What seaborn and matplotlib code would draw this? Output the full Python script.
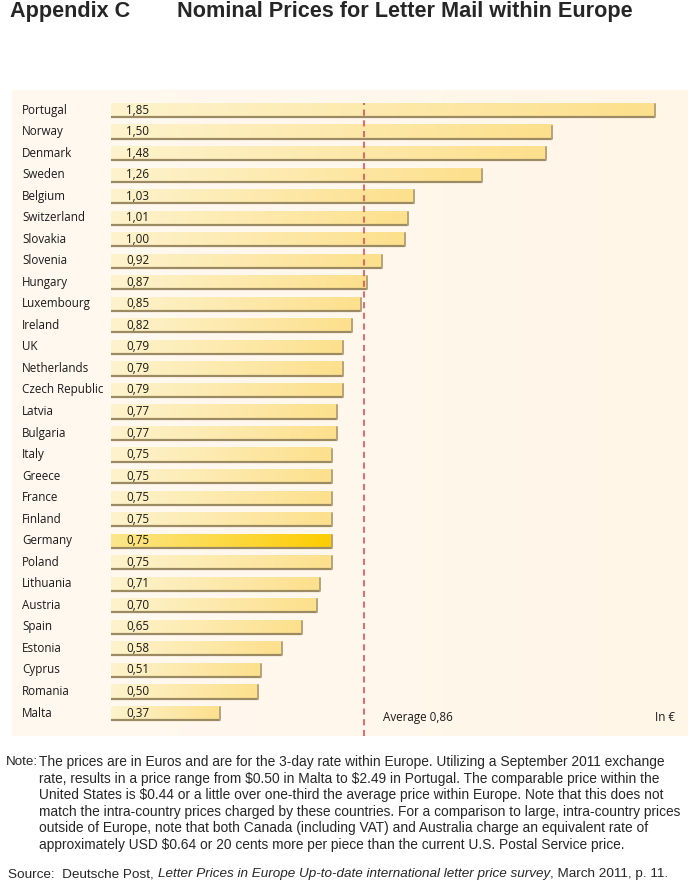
import numpy as np
import pandas as pd
import matplotlib
matplotlib.use('Agg')
import matplotlib.pyplot as plt
import seaborn as sns

# Chart data
countries = ['Portugal', 'Norway', 'Denmark', 'Sweden', 'Belgium', 'Switzerland',
             'Slovakia', 'Slovenia', 'Hungary', 'Luxembourg', 'Ireland', 'UK',
             'Netherlands', 'Czech Republic', 'Latvia', 'Bulgaria', 'Italy', 'Greece',
             'France', 'Finland', 'Germany', 'Poland', 'Lithuania', 'Austria', 'Spain',
             'Estonia', 'Cyprus', 'Romania', 'Malta']
prices = [1.85, 1.50, 1.48, 1.26, 1.03, 1.01, 1.00, 0.92, 0.87, 0.85, 0.82, 0.79,
          0.79, 0.79, 0.77, 0.77, 0.75, 0.75, 0.75, 0.75, 0.75, 0.75, 0.71, 0.70,
          0.65, 0.58, 0.51, 0.50, 0.37]
average = 0.86
highlight = 'Germany'

df = pd.DataFrame({'country': countries, 'price': prices})

sns.set_theme(style='white')
plt.rcParams['font.family'] = ['Liberation Sans', 'DejaVu Sans']
plt.rcParams['text.parse_math'] = False

W, H = 699, 888
fig = plt.figure(figsize=(W / 100, H / 100), dpi=100)
fig.patch.set_facecolor('white')

# Panel geometry in pixels
px_left, px_right, px_top, px_bot = 12, 688, 90, 736
bar_x0 = 111
scale = (655 - bar_x0) / 1.85
row0, row_step = 110, (713 - 110) / 28

ax = fig.add_axes([px_left / W, 1 - px_bot / H, (px_right - px_left) / W, (px_bot - px_top) / H])
xlim = ((px_left - bar_x0) / scale, (px_right - bar_x0) / scale)
ylim = ((px_bot - row0) / row_step, (px_top - row0) / row_step)

# Panel background with soft gradient
bg = np.linspace(0, 1, 256)[None, :]
ax.imshow(np.dstack([np.ones_like(bg), 0.975 - 0.01 * bg, 0.94 - 0.03 * bg]),
          extent=[*xlim, *ylim], aspect='auto', zorder=0)

sns.barplot(data=df, y='country', x='price', orient='h', color='#fde9a8',
            width=0.66, saturation=1, ax=ax, zorder=2)

grad = np.linspace(0, 1, 256)[None, :]
for patch, name in zip(ax.patches, countries):
    x0, y0 = patch.get_x(), patch.get_y()
    w, h = patch.get_width(), patch.get_height()
    if name == highlight:
        c0, c1 = np.array([253, 230, 140]), np.array([252, 205, 0])
    else:
        c0, c1 = np.array([253, 243, 205]), np.array([253, 224, 140])
    img = (c0[None, None, :] + (c1 - c0)[None, None, :] * grad[..., None]) / 255
    im = ax.imshow(img, extent=[x0, x0 + w, y0 + h, y0], aspect='auto', zorder=3)
    im.set_clip_path(patch)
    # shadow lines at bottom and right
    ax.plot([x0, x0 + w], [y0 + h, y0 + h], color='#9c8a62', lw=1.6, zorder=4,
            solid_capstyle='butt')
    ax.plot([x0 + w, x0 + w], [y0 + 0.05, y0 + h], color='#b8a27a', lw=1.4, zorder=4)

ax.set_xlim(*xlim)
ax.set_ylim(*ylim)
ax.axis('off')

# Labels
lfont = dict(fontsize=8.4, family=['Open Sans', 'DejaVu Sans'], color='#1a1a1a')
for i, (name, val) in enumerate(zip(countries, prices)):
    ax.text((22 - bar_x0) / scale, i, name, ha='left', va='center', zorder=5, **lfont)
    ax.text((126 - bar_x0) / scale, i, f'{val:.2f}'.replace('.', ','), ha='left',
            va='center', zorder=5, **lfont)

# Average line
ax.axvline(average, ymin=0.0, ymax=(px_bot - 103) / (px_bot - px_top), color='#e0424a',
           lw=1.1, dashes=(4, 3), zorder=5)
ax.text((383 - bar_x0) / scale, 28.2, 'Average 0,86', ha='left', va='center', **lfont)
ax.text((675 - bar_x0) / scale, 28.2, 'In €', ha='right', va='center', **lfont)

# Title
tfont = dict(fontsize=15.6, fontweight='bold', va='center', ha='left')
fig.text(10 / W, 1 - 12 / H, 'Appendix C', **tfont)
fig.text(177 / W, 1 - 12 / H, 'Nominal Prices for Letter Mail within Europe', **tfont)

# Note and source
note_lines = [
    'The prices are in Euros and are for the 3-day rate within Europe. Utilizing a September 2011 exchange',
    'rate, results in a price range from $0.50 in Malta to $2.49 in Portugal. The comparable price within the',
    'United States is $0.44 or a little over one-third the average price within Europe. Note that this does not',
    'match the intra-country prices charged by these countries. For a comparison to large, intra-country prices',
    'outside of Europe, note that both Canada (including VAT) and Australia charge an equivalent rate of',
    'approximately USD $0.64 or 20 cents more per piece than the current U.S. Postal Service price.',
]
nfont = dict(fontsize=9.95, va='center')
fig.text(6 / W, 1 - 762 / H, 'Note:', ha='left', fontsize=9.6, va='center')
for k, line in enumerate(note_lines):
    fig.text(39 / W, 1 - (762 + k * 16.6) / H, line, ha='left', **nfont)

sfont = dict(fontsize=9.7, va='center')
sy = 1 - 874 / H
t1 = fig.text(8 / W, sy, 'Source:  Deutsche Post, ', ha='left', **sfont)
fig.canvas.draw()
r = fig.canvas.get_renderer()
bb = t1.get_window_extent(r)
t2 = fig.text(bb.x1 / W, sy, 'Letter Prices in Europe Up-to-date international letter price survey',
              ha='left', style='italic', **sfont)
bb2 = t2.get_window_extent(r)
fig.text(bb2.x1 / W, sy, ', March 2011, p. 11.', ha='left', **sfont)

fig.savefig('out.png', dpi=100)
